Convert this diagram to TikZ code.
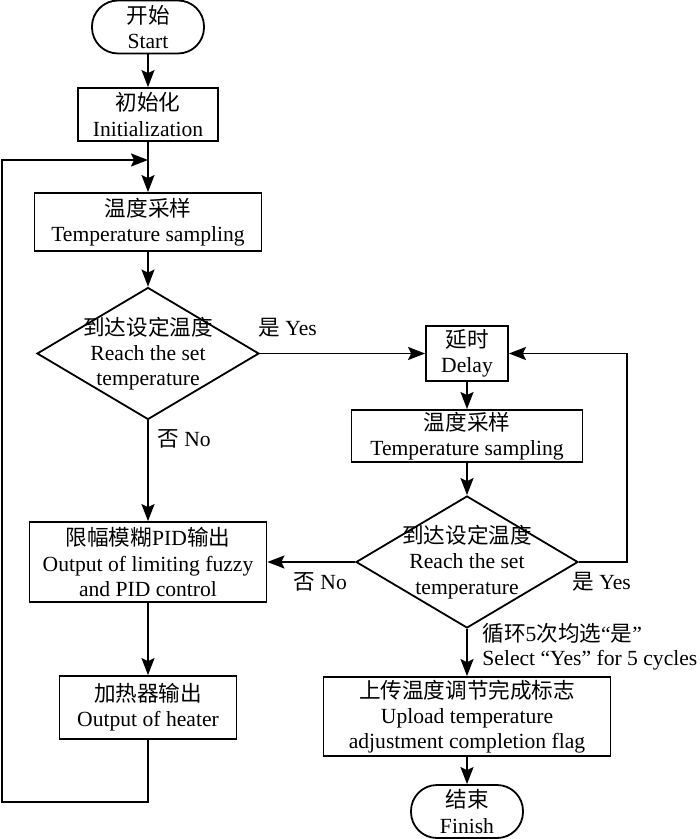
\documentclass[tikz,border=0pt]{standalone}
\usepackage{fontspec}
\setmainfont{Liberation Serif}
\newfontfamily\cjk{Noto Sans CJK SC}
\newcommand{\zhtext}[1]{{\cjk #1}}
\usetikzlibrary{positioning}
\usetikzlibrary{arrows.meta}
\usetikzlibrary{shapes.geometric}

\tikzset{
  every node/.style={font=\fontsize{10.8pt}{12.6pt}\selectfont, align=center, inner sep=1pt},
  terminal/.style={draw, line width=0.9pt, rounded corners=13pt, minimum width=56pt, minimum height=26.5pt},
  procbox/.style={draw, line width=0.9pt},
  decision/.style={draw, line width=0.9pt, diamond, inner sep=0pt, minimum width=111pt, minimum height=66pt},
  flow/.style={line width=0.9pt, -{Stealth[length=8.5pt, width=6.5pt, inset=1.5pt]}},
  tag/.style={anchor=west, inner sep=0pt}
}

\begin{document}
\begin{tikzpicture}[x=0.5pt, y=-0.5pt]
      \useasboundingbox (0,0) rectangle (700,839);

      % left column
      \node[terminal] (start) at (148,27) {\zhtext{开始}\\Start};
      \node[procbox, minimum width=70pt, minimum height=26.5pt] (init) at (148,114.5) {\zhtext{初始化}\\Initialization};
      \node[procbox, minimum width=113.5pt, minimum height=29pt] (samp1) at (148,222) {\zhtext{温度采样}\\Temperature sampling};
      \node[decision, label={[align=center]center:\zhtext{到达设定温度}\\Reach the set\\temperature}] (d1) at (148,353.5) {};
      \node[procbox, minimum width=118.5pt, minimum height=40pt] (pid) at (148,562) {\zhtext{限幅模糊}PID\zhtext{输出}\\Output of limiting fuzzy\\and PID control};
      \node[procbox, minimum width=88.5pt, minimum height=31.5pt] (heat) at (148,707.5) {\zhtext{加热器输出}\\Output of heater};

      % right column
      \node[procbox, minimum width=41pt, minimum height=27.5pt] (delay) at (467,353.5) {\zhtext{延时}\\Delay};
      \node[procbox, minimum width=115.5pt, minimum height=26pt] (samp2) at (467,436) {\zhtext{温度采样}\\Temperature sampling};
      \node[decision, label={[align=center]center:\zhtext{到达设定温度}\\Reach the set\\temperature}] (d2) at (467,562) {};
      \node[procbox, minimum width=143.5pt, minimum height=39.5pt] (upload) at (467,716.5) {\zhtext{上传温度调节完成标志}\\Upload temperature\\adjustment completion flag};
      \node[terminal] (finish) at (467,811.5) {\zhtext{结束}\\Finish};

      % labels
      \node[tag] (yes1) at (258,328) {\zhtext{是} Yes};
      \node[tag] (no1) at (157,439) {\zhtext{否} No};
      \node[tag] (yes2) at (572,582) {\zhtext{是} Yes};
      \node[tag] (no2) at (293,582) {\zhtext{否} No};
      \node[tag] (cyc1) at (482,633) {\zhtext{循环}5\zhtext{次均选}“\zhtext{是}”};
      \node[tag] (cyc2) at (482,660) {Select “Yes” for 5 cycles};

      \coordinate (join) at (148,160);
      \coordinate (loopbl) at (2,802);
      \coordinate (looptl) at (2,160);
      \coordinate (yesx) at (627,562);

      \draw[flow] (start) -- (init);
      \draw[flow] (init) -- (samp1);
      \draw[flow] (samp1) -- (d1);
      \draw[flow] (d1.east) -- (delay.west);
      \draw[flow] (d1.south) -- (pid.north);
      \draw[flow] (pid) -- (heat);
      \draw[flow] (heat.south) |- (loopbl) -- (looptl) -- (join);
      \draw[flow] (delay) -- (samp2);
      \draw[flow] (samp2) -- (d2);
      \draw[flow] (d2.east) -- (yesx) |- (delay.east);
      \draw[flow] (d2.west) -- (pid.east);
      \draw[flow] (d2.south) -- (upload.north);
      \draw[flow] (upload) -- (finish);

  \end{tikzpicture}
\end{document}
